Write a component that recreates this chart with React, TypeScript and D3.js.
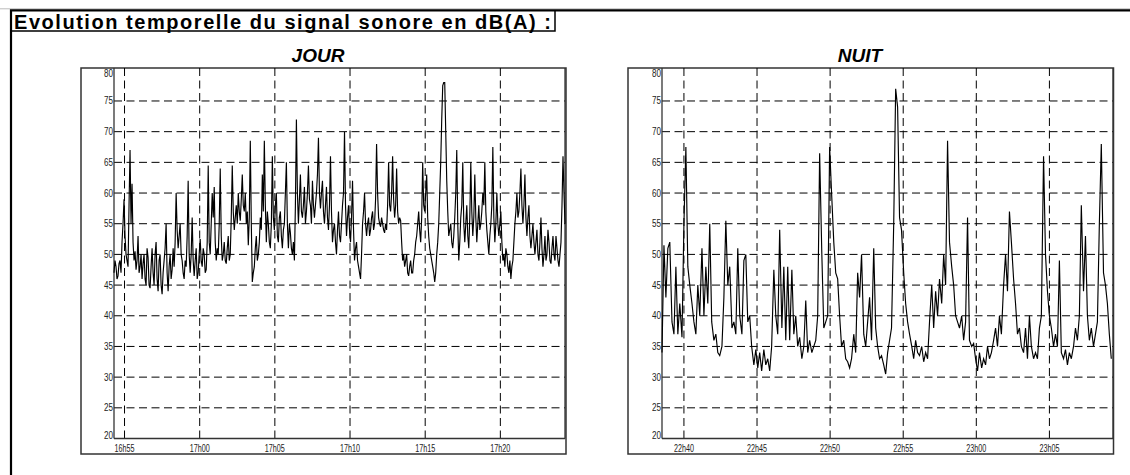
import React from 'react';
import * as d3 from 'd3';

// signal levels dB(A), one value every STEP seconds
const JOUR_VALUES = [
  47, 49, 48, 46, 46.5, 48.5, 49, 47, 52, 55, 59, 53, 50, 49, 48, 58, 67, 55, 61.5, 52,
  49, 50.5, 47.5, 49, 53, 47, 48, 50, 46, 48.5, 50, 46, 45, 51, 49.5, 45, 44.5, 48, 51, 47,
  45, 50, 52, 46, 44, 49, 50, 45, 43.5, 47, 49, 51, 55, 47, 44, 48, 50, 46, 47.5, 51,
  48, 52, 60, 54, 51, 53, 55, 50, 49, 47, 46, 49, 48, 53, 62, 50, 47, 50, 56, 49,
  46.5, 49, 51, 46, 47, 50, 52.5, 49, 48, 51, 50, 47, 47.5, 52, 64.5, 52, 50, 55, 60, 56,
  61, 52, 49, 51, 50, 55, 64, 53, 49, 50, 52, 49, 48.5, 51, 53, 49, 50, 56, 64.5, 57,
  54, 56, 58, 55, 60, 57, 55.5, 59, 63, 58, 57, 60, 55, 57, 51.5, 56, 68.5, 55, 45.5, 47,
  48, 51, 53, 49, 50, 52, 56, 54, 63, 57, 68.5, 58, 52, 57, 55, 52, 51, 55, 66, 56,
  54, 58, 60, 53, 52, 56, 57, 53, 51, 54, 55, 60, 65, 55, 51, 55, 53.5, 51, 50, 52,
  49, 58, 72, 60, 55, 59, 63, 57, 56, 58, 61, 55, 57, 60, 64.5, 59, 58, 55, 62, 58,
  56, 58, 60, 63, 69, 60, 57.5, 60, 62, 57, 55, 58, 61, 56, 54, 58, 66, 57, 52, 54,
  55, 52, 50, 54, 57, 53, 52, 55, 58, 60, 70, 58, 53, 56, 58, 54, 52, 56, 62, 54,
  49, 51, 52, 49, 48, 47, 46, 50, 55, 57, 60, 55, 53, 55, 56, 53, 54, 56, 57, 54,
  55, 59, 68, 60, 56, 55, 54.5, 56, 55, 54, 53.5, 55, 54, 58, 65, 58, 57, 60, 66, 59,
  56, 58, 64, 57, 55, 56, 55.5, 52, 49, 50, 48, 49, 50, 47, 46.5, 48, 49, 47, 47, 49,
  50, 52, 53, 55, 57, 54, 52, 56, 65, 58, 57, 60, 63, 56, 53, 51, 50, 49, 48, 47,
  45.5, 47, 50, 52, 55, 60, 65, 72, 77.5, 78, 78, 70, 62, 57, 53, 54, 55, 52, 51, 53,
  56, 60, 67, 55, 49, 52, 56, 58, 65, 55, 52, 55, 58, 53, 51, 56, 65, 57, 53, 56,
  63, 56, 52, 55, 58, 54, 55, 57, 60, 58, 65, 57, 54, 52, 50, 53, 55, 58, 67.5, 56,
  52, 55, 60, 55, 53, 55, 57, 52, 49, 50, 48, 51, 50, 48, 47, 49, 46, 48, 49, 52,
  55, 57, 60, 56, 57, 60, 64, 58, 55, 58, 63, 56, 53, 56, 58, 53, 51, 53, 55, 52,
  50, 52, 54, 50, 49, 52, 56, 51, 48, 50, 53, 49, 50, 54, 52, 49, 48.5, 51, 53, 50,
  49, 53, 51, 49, 48, 50, 52, 58, 66, 60, 55,
];

const NUIT_VALUES = [
  34, 51.5, 43, 51, 52, 39, 37, 48, 37, 42,
  36.5, 55, 67.5, 48, 45, 42, 39, 37, 45, 40,
  51, 40, 48, 42, 55, 39, 36, 37, 34, 33.5,
  35, 43, 55.5, 45, 48, 38, 39, 37, 51, 40,
  37, 49, 50, 39, 40, 35, 32, 34.5, 31.5, 34,
  31, 34.5, 32, 33, 31, 35, 47.5, 40, 37, 54,
  38, 48, 36, 48, 36, 47.5, 37, 40, 35, 36.5,
  33, 35, 42.5, 34, 36, 34, 35, 36, 40, 66.5,
  50, 38, 39, 40, 67.5, 60, 52, 47, 46, 40,
  35, 36, 33, 32.5, 31.5, 33, 37, 34, 47, 43,
  50, 37, 35, 39, 43, 36, 51, 38, 35, 33,
  33.5, 32, 30.5, 34, 36, 38, 55, 77, 74, 56,
  54, 47, 42, 39, 37, 35, 33, 36, 34, 33.5,
  35, 32.5, 34, 33, 39, 45, 38, 44, 40, 46,
  42, 50, 45, 68.5, 52, 48, 45, 40, 39, 38,
  40, 36, 39, 56, 36, 35, 35.5, 33, 31, 34,
  31.5, 33, 32, 35, 33, 34, 36, 38, 35, 40,
  37, 45, 50, 44, 57, 52, 46, 42, 37, 38,
  35, 34, 38, 33, 40, 35, 33, 34, 33, 38,
  40, 66, 50, 44, 40, 38, 35, 37, 35, 49,
  34, 33, 34.5, 32, 34, 33, 35, 38, 36, 40,
  58, 44, 53, 40, 36, 38, 35, 37, 39, 55,
  68, 47, 45, 42, 37, 33,
];

const JOUR_START = [16, 54, 18];
const JOUR_END = [17, 24, 18];
const JOUR_STEP = 4;
const NUIT_START = [22, 38, 30];
const NUIT_END = [23, 9, 21];
const NUIT_STEP = 8.2;

const Y_TICKS = [20, 25, 30, 35, 40, 45, 50, 55, 60, 65, 70, 75, 80];

const TITLE = 'Evolution temporelle du signal sonore en dB(A) :';

const FONT = 'Liberation Sans, Arial, sans-serif';

const toDate = (hms: number[], extraSec = 0) =>
  new Date(2000, 0, 1, hms[0], hms[1], hms[2] + extraSec);

const fmt = d3.timeFormat('%Hh%M');

interface PanelProps {
  label: string;
  labelX: number;
  values: number[];
  start: number[];
  end: number[];
  step: number;
  frameLeft: number;
  frameRight: number;
  plotLeft: number;
  plotRight: number;
}

const frameTop = 68;
const frameBottom = 454;
const plotTop = 70.3;
const plotBottom = 438.5;

const Panel: React.FC<PanelProps> = (p) => {
  const x = d3.scaleTime()
    .domain([toDate(p.start), toDate(p.end)])
    .range([p.plotLeft, p.plotRight]);
  const y = d3.scaleLinear().domain([20, 80]).range([plotBottom, plotTop]);

  const pts = p.values.map((v, i) => ({ t: toDate(p.start, i * p.step), v }));
  const line = d3.line<{ t: Date; v: number }>()
    .x(d => x(d.t))
    .y(d => y(d.v));

  const xTicks = x.ticks(d3.timeMinute.every(5)!);

  return (
    <g>
      <text x={p.labelX} y={62} textAnchor="middle" fontFamily={FONT}
        fontSize={19} fontWeight="bold" fontStyle="italic">{p.label}</text>

      {/* frame */}
      <rect x={p.frameLeft} y={frameTop} width={p.frameRight - p.frameLeft} height={frameBottom - frameTop}
        fill="none" stroke="#333" strokeWidth={1.5} />

      {/* grid */}
      {Y_TICKS.filter(t => t > 20 && t < 80).map(t => (
        <line key={'h' + t} x1={p.plotLeft} x2={p.plotRight} y1={y(t)} y2={y(t)}
          stroke="#000" strokeWidth={1} strokeDasharray="8,4.5" />
      ))}
      {xTicks.map(t => (
        <line key={'v' + t.getTime()} x1={x(t)} x2={x(t)} y1={frameTop} y2={plotBottom + 4}
          stroke="#000" strokeWidth={1} strokeDasharray="8,4.5" />
      ))}

      {/* axes */}
      <line x1={p.plotLeft} x2={p.plotLeft} y1={frameTop} y2={plotBottom} stroke="#333" strokeWidth={1.3} />
      <line x1={p.plotLeft} x2={p.plotRight} y1={plotBottom} y2={plotBottom} stroke="#333" strokeWidth={1.3} />
      <line x1={p.plotRight} x2={p.plotRight} y1={frameTop} y2={plotBottom} stroke="#333" strokeWidth={1.3} />

      {Y_TICKS.map(t => {
        let ty = y(t) + 3.5;
        if (t === 80) ty = y(t) + 6.5;
        if (t === 20) ty = y(t);
        return (
          <text key={'yl' + t} x={p.plotLeft - 1} y={ty} textAnchor="end"
            fontFamily={FONT} fontSize={10} fill="#222"
            textLength={9} lengthAdjust="spacingAndGlyphs">{t}</text>
        );
      })}
      {xTicks.map(t => (
        <text key={'xl' + t.getTime()} x={x(t)} y={452} textAnchor="middle"
          fontFamily={FONT} fontSize={10} fill="#222"
          textLength={20} lengthAdjust="spacingAndGlyphs">{fmt(t)}</text>
      ))}

      <path d={line(pts) || ''} fill="none" stroke="#000" strokeWidth={1.15} />
    </g>
  );
};

export default function App() {
  return (
    <svg width={1130} height={475} style={{ position: 'absolute', left: 0, top: 0, background: '#fff' }}>
      <rect x={0} y={0} width={1130} height={475} fill="#fff" />
      <line x1={0} x2={1130} y1={8.8} y2={8.8} stroke="#bbb" strokeWidth={1} />
      <path d="M11,476 V10.3 H1131" fill="none" stroke="#000" strokeWidth={2.2} />
      <text x={14} y={28.5} fontFamily={FONT} fontSize={20} fontWeight="bold"
        textLength={537} lengthAdjust="spacing">{TITLE}</text>
      <path d="M11,31 H555 V10.3" fill="none" stroke="#000" strokeWidth={1.5} />

      <Panel label="JOUR" labelX={318} values={JOUR_VALUES} start={JOUR_START} end={JOUR_END}
        step={JOUR_STEP} frameLeft={81} frameRight={566} plotLeft={114} plotRight={565} />
      <Panel label="NUIT" labelX={860} values={NUIT_VALUES} start={NUIT_START} end={NUIT_END}
        step={NUIT_STEP} frameLeft={628} frameRight={1113.5} plotLeft={662} plotRight={1113} />
    </svg>
  );
}
